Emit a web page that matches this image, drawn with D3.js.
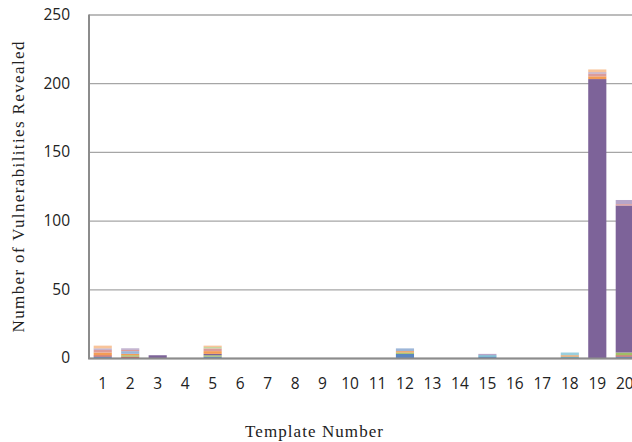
<!DOCTYPE html>
<html><head><meta charset="utf-8">
<script src="https://cdn.jsdelivr.net/npm/d3@7"></script>
<style>body{margin:0;background:#fff}svg{display:block}</style>
</head><body>
<script>
const categories = ["1","2","3","4","5","6","7","8","9","10","11","12","13","14","15","16","17","18","19","20"];
const seriesNames = ["S1","S2","S3","S4","S5","S6","S7","S8","S9","S10","S11","S12"];
const seriesColors = ["#5B86C0","#C45C59","#A1BE65","#7D6399","#5AB2CA","#F49C55","#9DB6D8","#DC9C9A","#C6D7A0","#B6A6C9","#9ACFDE","#F8C49A"];
// values per series, one entry per template 1..20
const s1  = [1,0,0,0,1,0,0,0,0,0,0,3,0,0,1,0,0,0,0,1];
const s2  = [1,1,0,0,0,0,0,0,0,0,0,0,0,0,0,0,0,0,0,1];
const s3  = [0,1,0,0,1,0,0,0,0,0,0,1,0,0,0,0,0,0,0,2];
const s4  = [0,0,2,0,1,0,0,0,0,0,0,0,0,0,0,0,0,0,203,107];
const s5  = [0,0,0,0,0,0,0,0,0,0,0,0,0,0,1,0,0,1,0,0];
const s6  = [2,1,0,0,2,0,0,0,0,0,0,1,0,0,0,0,0,1,2,0];
const s7  = [0,2,0,0,0,0,0,0,0,0,0,2,0,0,0,0,0,0,0,0];
const s8  = [2,1,0,0,2,0,0,0,0,0,0,0,0,0,0,0,0,0,2,1];
const s9  = [0,0,0,0,1,0,0,0,0,0,0,0,0,0,0,0,0,0,0,0];
const s10 = [1,1,0,0,0,0,0,0,0,0,0,0,0,0,1,0,0,0,1,3];
const s11 = [0,0,0,0,0,0,0,0,0,0,0,0,0,0,0,0,0,2,0,0];
const s12 = [2,0,0,0,1,0,0,0,0,0,0,0,0,0,0,0,0,0,2,0];
const yTicks = [0,50,100,150,200,250];
const yTitle = "Number of Vulnerabilities  Revealed";
const xTitle = "Template Number";

const seriesValues = [s1,s2,s3,s4,s5,s6,s7,s8,s9,s10,s11,s12];
const W = 632, H = 442;
const mLeft = 89, mTop = 14.5, mBottom = 358, mRight = 638.5;
const serif = "'Liberation Serif', 'Times New Roman', Times, serif";
const sans = "'Open Sans', 'Liberation Sans', sans-serif";

const rows = categories.map((c,i)=>{
  const r = {cat:c};
  seriesNames.forEach((s,j)=>{ r[s] = seriesValues[j][i]; });
  return r;
});
const stack = d3.stack().keys(seriesNames)(rows);

const svg = d3.select("body").append("svg").attr("width",W).attr("height",H);

const x = d3.scaleBand().domain(categories).range([mLeft,mRight]).paddingInner(0.34).paddingOuter(0.17);
const y = d3.scaleLinear().domain([0,250]).range([mBottom,mTop]);

// gridlines + y labels
const yAxis = svg.append("g").attr("transform",`translate(${mLeft},0)`)
  .call(d3.axisLeft(y).tickValues(yTicks).tickSize(-(W-mLeft)).tickPadding(19));
yAxis.select(".domain").remove();
yAxis.selectAll(".tick line").attr("stroke","#A6A6A6").attr("stroke-width",1.3);
yAxis.selectAll(".tick text").style("font-family",sans).attr("font-size",15.5).attr("fill","#222");

// bars
svg.append("g").selectAll("g").data(stack).join("g")
  .attr("fill",(d,i)=>seriesColors[i])
  .selectAll("rect").data(d=>d.map(v=>({v,cat:v.data.cat}))).join("rect")
  .attr("x",d=>x(d.cat)).attr("width",x.bandwidth())
  .attr("y",d=>y(d.v[1])).attr("height",d=>y(d.v[0])-y(d.v[1]));

// axis lines
svg.append("line").attr("x1",mLeft).attr("x2",mLeft).attr("y1",mTop).attr("y2",mBottom+1)
  .attr("stroke","#8C8C8C").attr("stroke-width",2);
svg.append("line").attr("x1",mLeft-1).attr("x2",W).attr("y1",mBottom+0.5).attr("y2",mBottom+0.5)
  .attr("stroke","#8C8C8C").attr("stroke-width",2);

// x labels
const xAxis = svg.append("g").attr("transform",`translate(0,${mBottom})`)
  .call(d3.axisBottom(x).tickSize(0).tickPadding(20));
xAxis.select(".domain").remove();
xAxis.selectAll(".tick text").style("font-family",sans).attr("font-size",15.5).attr("fill","#222");

// titles
svg.append("text").attr("x",314).attr("y",437).attr("text-anchor","middle")
  .style("font-family",serif).attr("font-size",17).attr("fill","#222")
  .attr("textLength",138).attr("lengthAdjust","spacing").text(xTitle);
svg.append("text").attr("transform","translate(24,187) rotate(-90)").attr("text-anchor","middle")
  .style("font-family",serif).attr("font-size",17).attr("fill","#222")
  .attr("textLength",291).attr("lengthAdjust","spacing").text(yTitle);
</script>
</body></html>
